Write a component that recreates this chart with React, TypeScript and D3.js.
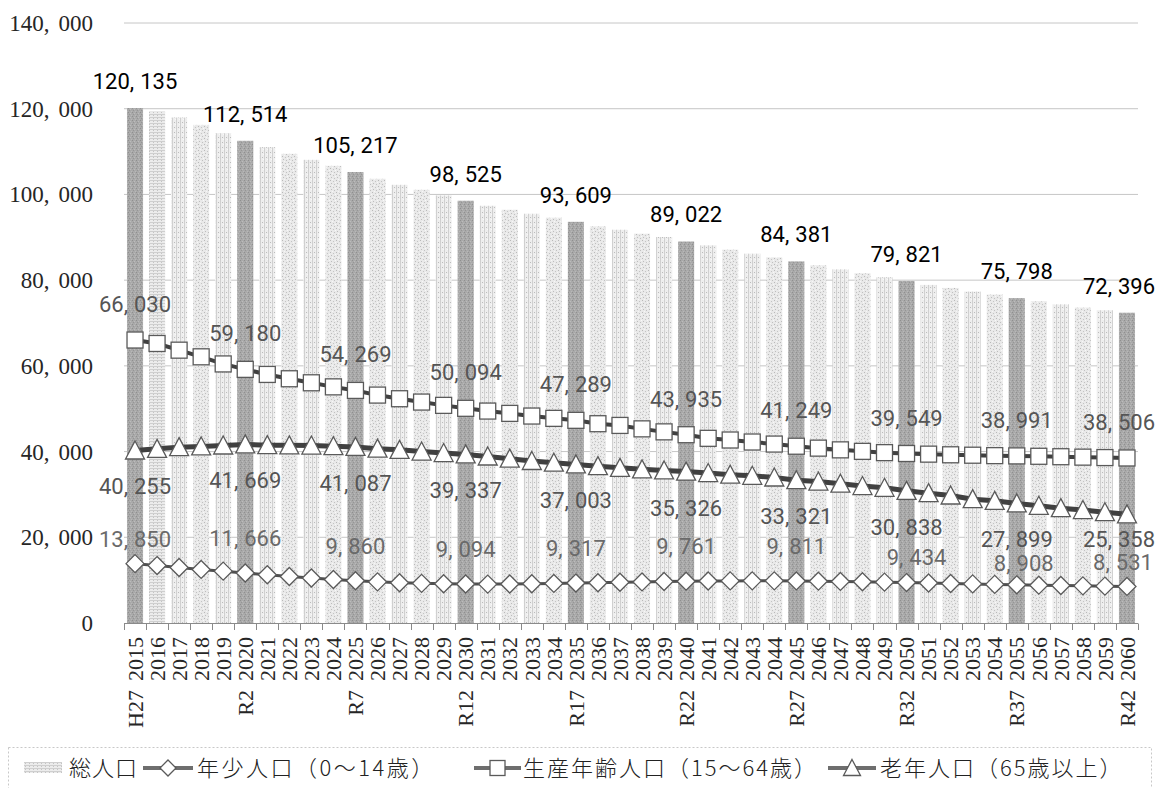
import React from "react";
import * as d3 from "d3";

// Categories: fiscal years with the Japanese era label on every fifth year
const years = [
  "2015", "2016", "2017", "2018", "2019", "2020", "2021", "2022", "2023", "2024",
  "2025", "2026", "2027", "2028", "2029", "2030", "2031", "2032", "2033", "2034",
  "2035", "2036", "2037", "2038", "2039", "2040", "2041", "2042", "2043", "2044",
  "2045", "2046", "2047", "2048", "2049", "2050", "2051", "2052", "2053", "2054",
  "2055", "2056", "2057", "2058", "2059", "2060",
];
const eraYears = ["2015", "2020", "2025", "2030", "2035", "2040", "2045", "2050", "2055", "2060"];
const eraLabels = ["H27", "R2", "R7", "R12", "R17", "R22", "R27", "R32", "R37", "R42"];

// 総人口
const totalPop = [
  120135, 119340, 117940, 116230, 114290, 112514, 111030, 109480, 108080, 106680,
  105217, 103650, 102250, 101090, 99770, 98525, 97360, 96430, 95500, 94570,
  93609, 92540, 91770, 90840, 90070, 89022, 88120, 87110, 86180, 85320,
  84381, 83460, 82530, 81600, 80660, 79821, 78890, 78190, 77330, 76630,
  75798, 75070, 74370, 73600, 72980, 72396,
];
// 年少人口（0～14歳）
const youthPop = [
  13850, 13400, 12950, 12500, 12100, 11666, 11250, 10850, 10500, 10150,
  9860, 9600, 9400, 9250, 9150, 9094, 9080, 9100, 9150, 9230,
  9317, 9400, 9500, 9580, 9680, 9761, 9800, 9820, 9830, 9830,
  9811, 9760, 9700, 9620, 9530, 9434, 9330, 9220, 9120, 9010,
  8908, 8820, 8740, 8670, 8600, 8531,
];
// 生産年齢人口（15～64歳）
const workingPop = [
  66030, 65220, 63660, 62110, 60450, 59180, 58000, 56990, 56050, 55100,
  54269, 53180, 52330, 51550, 50780, 50094, 49450, 48910, 48290, 47750,
  47289, 46500, 46100, 45300, 44600, 43935, 43090, 42700, 42230, 41750,
  41249, 40800, 40400, 40050, 39750, 39549, 39400, 39250, 39150, 39050,
  38991, 38900, 38800, 38700, 38600, 38506,
];
// 老年人口（65歳以上）
const elderlyPop = [
  40255, 40640, 41030, 41190, 41420, 41669, 41500, 41450, 41400, 41250,
  41087, 40680, 40400, 40000, 39650, 39337, 38850, 38350, 37800, 37400,
  37003, 36600, 36200, 35850, 35600, 35326, 34990, 34600, 34350, 33950,
  33321, 33000, 32500, 31950, 31550, 30838, 30300, 29750, 28900, 28500,
  27899, 27350, 26800, 26350, 25850, 25358,
];
const yTickValues = [0, 20000, 40000, 60000, 80000, 100000, 120000, 140000];

// Label placement tweaks (vertical distance from the marker centre, px)
const youthLabelRise: Record<string, number> = { "2015": 25, "2050": 26, "2055": 22, "2060": 24 };
const youthLabelShift: Record<string, number> = { "2050": 10, "2055": 7, "2060": -4 };
const elderlyLabelDrop: Record<string, number> = { "2060": 25 };

const W = 1161;
const H = 788;
const LABEL_FONT = "Roboto, 'Liberation Sans', sans-serif";
const AXIS_FONT = "'Liberation Serif', 'DejaVu Serif', serif";
const CJK_FONT = "'Noto Sans CJK JP', 'Noto Sans', sans-serif";
const fmt = d3.format(",");

// A thousands-separated number with a little air after the comma
function Num({ x, y, value, size, fill, anchor = "middle", gap = 6, family = LABEL_FONT }: any) {
  const s = fmt(value);
  const i = s.indexOf(",");
  return (
    <text x={x} y={y} fontSize={size} fill={fill} textAnchor={anchor} fontFamily={family}>
      {i < 0 ? (
        s
      ) : (
        <>
          <tspan>{s.slice(0, i + 1)}</tspan>
          <tspan dx={gap}>{s.slice(i + 1)}</tspan>
        </>
      )}
    </text>
  );
}

function Diamond({ cx, cy, r = 9 }: any) {
  return (
    <path
      d={`M${cx},${cy - r}L${cx + r},${cy}L${cx},${cy + r}L${cx - r},${cy}Z`}
      fill="#fff"
      stroke="#5a5a5a"
      strokeWidth={1.3}
    />
  );
}
function Square({ cx, cy, s = 16 }: any) {
  return <rect x={cx - s / 2} y={cy - s / 2} width={s} height={s} fill="#fff" stroke="#5a5a5a" strokeWidth={1.3} />;
}
function Triangle({ cx, cy, w = 19, h = 17 }: any) {
  return (
    <path
      d={`M${cx},${cy - h / 2 - 1}L${cx + w / 2},${cy + h / 2}L${cx - w / 2},${cy + h / 2}Z`}
      fill="#fff"
      stroke="#5a5a5a"
      strokeWidth={1.3}
    />
  );
}

export default function App() {
  const x = d3.scaleBand<string>().domain(years).range([124, 1138]).paddingInner(0.27).paddingOuter(0.135);
  const step = x.step();
  const bw = x.bandwidth();
  const cx = (yr: string) => (x(yr) as number) + bw / 2;
  const y = d3.scaleLinear().domain([0, 140000]).range([623, 23]);

  const line = d3
    .line<number>()
    .x((_, i) => cx(years[i]))
    .y((d) => y(d));

  const labelIdx = eraYears.map((yr) => years.indexOf(yr));
  const clampX = (v: number) => Math.min(v, 1119);

  return (
    <svg width={W} height={H} style={{ position: "absolute", left: 0, top: 0, background: "#fff" }}>
      <defs>
        <pattern id="speckleLight" width="6" height="6" patternUnits="userSpaceOnUse">
          <rect width="6" height="6" fill="#e9e9e9" />
          <rect x="0" y="0" width="1" height="1" fill="#b9b9b9" />
          <rect x="3" y="1" width="1" height="1" fill="#c4c4c4" />
          <rect x="1" y="3" width="1" height="1" fill="#bdbdbd" />
          <rect x="4" y="4" width="1" height="1" fill="#c0c0c0" />
          <rect x="5" y="2" width="1" height="1" fill="#f8f8f8" />
          <rect x="2" y="5" width="1" height="1" fill="#f6f6f6" />
        </pattern>
        <pattern id="stripeLight" width="4" height="5" patternUnits="userSpaceOnUse">
          <rect width="4" height="5" fill="#eeeeee" />
          <rect x="0" y="0" width="1" height="5" fill="#d0d0d0" />
          <rect x="2" y="2" width="1" height="1" fill="#bcbcbc" />
          <rect x="3" y="4" width="1" height="1" fill="#f9f9f9" />
        </pattern>
        <pattern id="hstripeLight" width="4" height="3" patternUnits="userSpaceOnUse">
          <rect width="4" height="3" fill="#ececec" />
          <rect x="0" y="0" width="4" height="1" fill="#cfcfcf" />
          <rect x="1" y="1" width="1" height="1" fill="#c4c4c4" />
        </pattern>
        <pattern id="speckleDark" width="4" height="4" patternUnits="userSpaceOnUse">
          <rect width="4" height="4" fill="#a9a9a9" />
          <rect x="0" y="0" width="1" height="1" fill="#8f8f8f" />
          <rect x="2" y="1" width="1" height="1" fill="#bcbcbc" />
          <rect x="1" y="2" width="1" height="1" fill="#959595" />
          <rect x="3" y="3" width="1" height="1" fill="#b8b8b8" />
        </pattern>
      </defs>

      {/* gridlines */}
      {yTickValues.slice(1).map((t) => (
        <line key={t} x1={124} x2={1138} y1={y(t)} y2={y(t)} stroke="#c6c6c6" strokeWidth={1} />
      ))}

      {/* y tick labels */}
      {yTickValues.map((t) => (
        <g key={t} transform={`translate(0,${y(t) + 8})`}>
          <Num x={93} y={0} value={t} size={23} fill="#262626" anchor="end" gap={9} family={AXIS_FONT} />
        </g>
      ))}

      {/* 総人口 bars */}
      {years.map((yr, i) => {
        const milestone = eraYears.includes(yr);
        const fill = milestone
          ? "url(#speckleDark)"
          : i === 1
          ? "url(#hstripeLight)"
          : i % 2 === 0
          ? "url(#stripeLight)"
          : "url(#speckleLight)";
        return (
          <rect key={yr} x={x(yr)} y={y(totalPop[i])} width={bw} height={y(0) - y(totalPop[i])} fill={fill} />
        );
      })}

      {/* x axis */}
      <line x1={124} x2={1138} y1={623.5} y2={623.5} stroke="#8a8a8a" strokeWidth={1} />
      {d3.range(years.length + 1).map((k) => {
        const xx = Math.round(124 + k * step) + 0.5;
        return <line key={k} x1={xx} x2={xx} y1={623.5} y2={630} stroke="#8a8a8a" strokeWidth={1} />;
      })}
      {years.map((yr) => (
        <text
          key={yr}
          transform={`translate(${cx(yr)},637) rotate(-90)`}
          textAnchor="end"
          dy="0.35em"
          fontSize={22}
          fontFamily={AXIS_FONT}
          fill="#262626"
        >
          {yr}
        </text>
      ))}
      {eraYears.map((yr, k) => (
        <text
          key={yr}
          transform={`translate(${cx(yr)},690) rotate(-90)`}
          textAnchor="end"
          dy="0.35em"
          fontSize={22}
          fontFamily={AXIS_FONT}
          fill="#262626"
        >
          {eraLabels[k]}
        </text>
      ))}

      {/* lines */}
      <path d={line(workingPop) || ""} fill="none" stroke="#404040" strokeWidth={4} />
      <path d={line(elderlyPop) || ""} fill="none" stroke="#404040" strokeWidth={5} />
      <path d={line(youthPop) || ""} fill="none" stroke="#505050" strokeWidth={3} />

      {years.map((yr, i) => (
        <Square key={yr} cx={cx(yr)} cy={y(workingPop[i])} />
      ))}
      {years.map((yr, i) => (
        <Triangle key={yr} cx={cx(yr)} cy={y(elderlyPop[i])} />
      ))}
      {years.map((yr, i) => (
        <Diamond key={yr} cx={cx(yr)} cy={y(youthPop[i])} />
      ))}

      {/* data labels */}
      {labelIdx.map((i) => (
        <Num key={"t" + i} x={clampX(cx(years[i]))} y={y(totalPop[i]) - 19} value={totalPop[i]} size={22} fill="#000" />
      ))}
      {labelIdx.map((i) => (
        <Num key={"w" + i} x={clampX(cx(years[i]))} y={y(workingPop[i]) - 28} value={workingPop[i]} size={22} fill="#555" />
      ))}
      {labelIdx.map((i) => {
        const yr = years[i];
        const drop = elderlyLabelDrop[yr] ?? 36;
        return (
          <Num key={"e" + i} x={clampX(cx(yr))} y={y(elderlyPop[i]) + drop + 8} value={elderlyPop[i]} size={22} fill="#555" />
        );
      })}
      {labelIdx.map((i) => {
        const yr = years[i];
        const rise = youthLabelRise[yr] ?? 35;
        const shift = youthLabelShift[yr] ?? 0;
        return (
          <Num key={"y" + i} x={cx(yr) + shift} y={y(youthPop[i]) - rise + 8} value={youthPop[i]} size={22} fill="#6a6a6a" />
        );
      })}

      {/* legend */}
      <rect x={8.5} y={747.5} width={1143} height={60} fill="none" stroke="#c8c8c8" strokeDasharray="2,2" />
      <rect x={24} y={762} width={38} height={11} fill="url(#hstripeLight)" />
      <text x={69} y={768} dy="0.35em" fontSize={22} fontWeight={300} letterSpacing={1} fontFamily={CJK_FONT} fill="#222">総人口</text>

      <line x1={143} x2={193} y1={768} y2={768} stroke="#6e6e6e" strokeWidth={4} />
      <Diamond cx={168} cy={768} r={8} />
      <text x={197} y={768} dy="0.35em" fontSize={22} fontWeight={300} letterSpacing={2.5} fontFamily={CJK_FONT} fill="#222">年少人口（0～14歳）</text>

      <line x1={474} x2={521} y1={768} y2={768} stroke="#6e6e6e" strokeWidth={4} />
      <Square cx={497.5} cy={768} s={15} />
      <text x={523} y={768} dy="0.35em" fontSize={22} fontWeight={300} letterSpacing={2} fontFamily={CJK_FONT} fill="#222">生産年齢人口（15～64歳）</text>

      <line x1={828} x2={876} y1={768} y2={768} stroke="#6e6e6e" strokeWidth={4} />
      <Triangle cx={852} cy={768} w={17} h={15} />
      <text x={880} y={768} dy="0.35em" fontSize={22} fontWeight={300} letterSpacing={2} fontFamily={CJK_FONT} fill="#222">老年人口（65歳以上）</text>
    </svg>
  );
}
